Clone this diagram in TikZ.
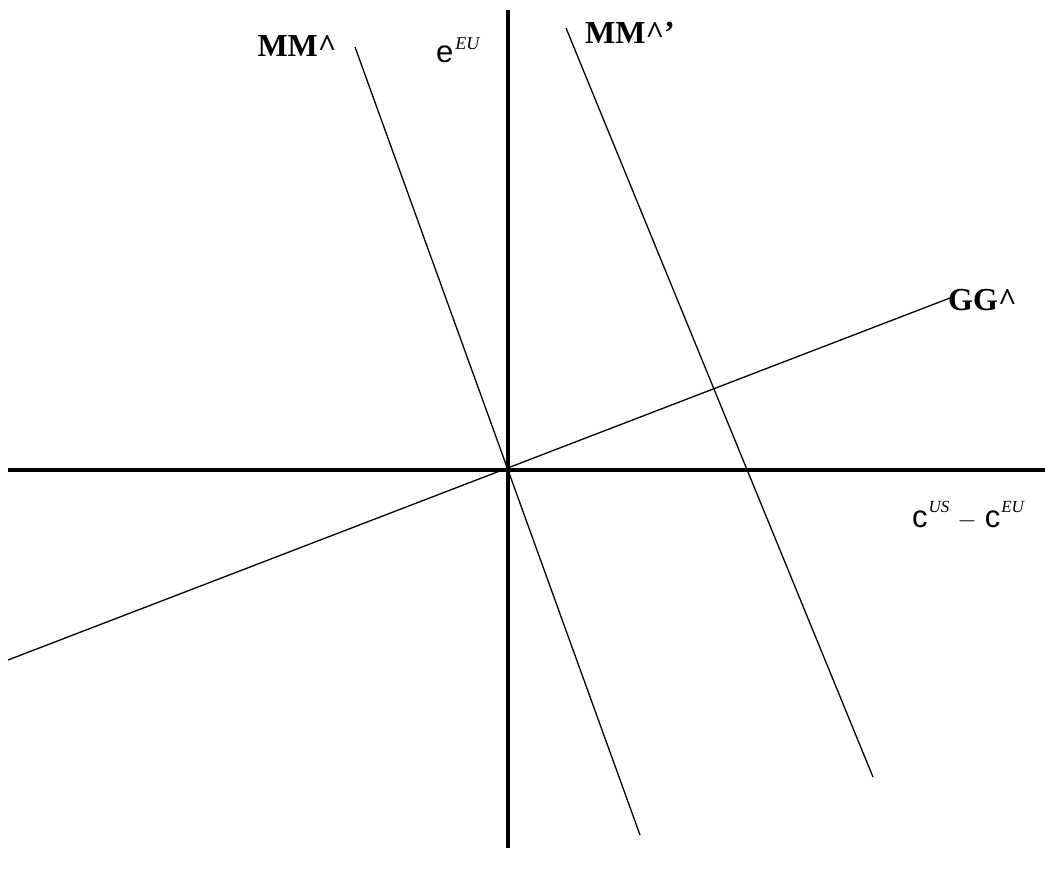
\documentclass[tikz,border=0pt]{standalone}
\usepackage{fontspec}
\setmainfont{Liberation Serif}
\setsansfont{Liberation Sans}
\usetikzlibrary{positioning}

\newcommand{\supit}[3]{\raisebox{#1pt}{\fontsize{#2}{#2}\selectfont\rmfamily\itshape #3}}

\begin{document}
\begin{tikzpicture}[
    x=1pt, y=-1pt,
    axis/.style={line width=4.5pt},
    curve/.style={line width=1.3pt},
    lbl/.style={font=\fontsize{32}{32}\selectfont\bfseries, inner sep=0pt},
    axlbl/.style={font=\fontsize{31}{31}\selectfont\sffamily, inner sep=0pt}
]
\useasboundingbox (0,0) rectangle (1045,877);

% axes
\coordinate (xl) at (8,470);
\coordinate (xr) at (1045,470);
\coordinate (yt) at (508,10);
\coordinate (yb) at (508,848);
\draw[axis] (xl) -- (xr);
\draw[axis] (yt) -- (yb);

% schedules
\coordinate (mmt) at (355,47);
\coordinate (mmb) at (640,835);
\coordinate (mmpt) at (566,28);
\coordinate (mmpb) at (873,777);
\coordinate (ggl) at (8,660);
\coordinate (ggr) at (950,298);
\draw[curve] (mmt) -- (mmb);
\draw[curve] (mmpt) -- (mmpb);
\draw[curve] (ggl) -- (ggr);

% labels
\node[lbl] (mm) at (297,46) {MM\textasciicircum};
\node[lbl] (mmp) at (630,33) {MM\textasciicircum'};
\node[lbl, anchor=west] (gg) at (948,300) {GG\textasciicircum};
\node[axlbl, anchor=base west] (eeu) at (436,63)
  {e\hspace{2pt}\supit{13}{18}{EU}};
\node[axlbl, anchor=base west] (dc) at (912,527)
  {c\hspace{1pt}\supit{15}{17}{US}\hspace{8pt}{\fontsize{26}{26}\selectfont$-$}\hspace{8pt}c\hspace{1pt}\supit{15}{17}{EU}};
\end{tikzpicture}
\end{document}
